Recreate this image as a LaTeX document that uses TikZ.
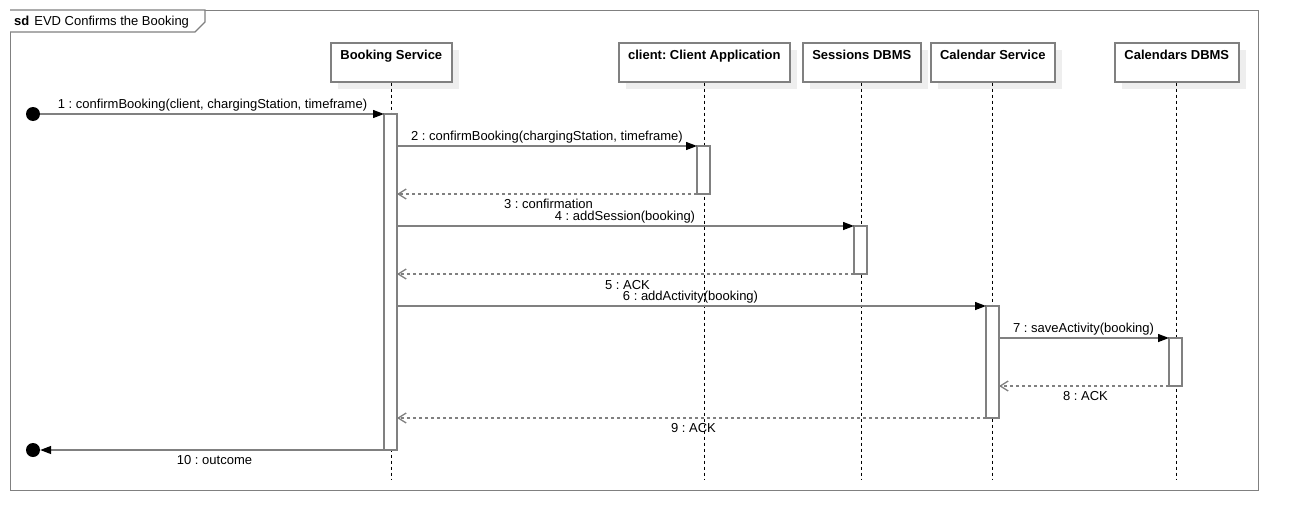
\documentclass[tikz,border=0pt]{standalone}
\usepackage{fontspec}
\setmainfont{Liberation Sans}
\frenchspacing
\usetikzlibrary{arrows.meta,calc,positioning,shapes,shadows}
\definecolor{my_gray}{RGB}{128,128,128}
\definecolor{my_shade}{RGB}{238,238,238}
\tikzset{
  head_n/.style = {draw=my_gray, line width=1.6pt, fill=white, anchor=north west, inner sep=0pt,
  text height=17pt, text depth=22pt, font=\bfseries\fontsize{13}{15}\selectfont,
  drop shadow={shadow xshift=7pt, shadow yshift=-7pt, fill=my_shade, opacity=1}},
  act_n/.style = {draw=my_gray, line width=1.3pt, fill=white, anchor=north, inner sep=0pt,
  outer sep=0pt, minimum width=13pt},
  dot_n/.style = {circle, fill=black, inner sep=0pt, minimum size=14pt},
  msg_t/.style = {anchor=base, inner sep=0pt, font=\fontsize{13}{15}\selectfont},
  life_l/.style = {black, line width=0.9pt, dash pattern=on 3pt off 3pt},
  call_l/.style = {draw=my_gray, line width=1.3pt, -{Triangle[length=11pt,width=8pt,color=black]}},
  ret_l/.style = {draw=my_gray, line width=1.3pt, dash pattern=on 3pt off 3pt,
  -{Straight Barb[length=8pt,width=10pt]}}
}

\begin{document}
\begin{tikzpicture}[x=1pt,y=-1pt]
  \useasboundingbox (0,0) rectangle (1298,530);
  % frame
  \node[draw=my_gray, line width=1.3pt, anchor=north west, inner sep=0pt,
    minimum width=1248pt, minimum height=480pt] (frame) at (10,10) {};
  \draw[my_gray, line width=1.3pt, fill=white] (frame.north west) -- (205,10) -- (205,22)
    -- (195,32) -- (10,32);
  \node[msg_t, anchor=base west] (title) at (14,25) {\textbf{sd}\hspace{5pt}EVD Confirms the Booking};
  % lifelines
  \node[head_n, minimum width=121pt] (bs) at (330,42) {Booking Service};
  \node[head_n, minimum width=171pt] (cl) at (618,42) {client: Client Application};
  \node[head_n, minimum width=118pt] (se) at (802,42) {Sessions DBMS};
  \node[head_n, minimum width=124pt] (ca) at (930,42) {Calendar Service};
  \node[head_n, minimum width=124pt] (cd) at (1114,42) {Calendars DBMS};
  \coordinate (bot) at (0,480);
  \draw[life_l] (bs.south) -- (bs.south |- bot);
  \draw[life_l] (cl.south) -- (cl.south |- bot);
  \draw[life_l] (se.south) -- (se.south |- bot);
  \draw[life_l] (ca.south) -- (ca.south |- bot);
  \draw[life_l] (cd.south) -- (cd.south |- bot);
  % activations
  \node[act_n, minimum height=336pt] (bs_a) at (390.5,114) {};
  \node[act_n, minimum height=48pt] (cl_a) at (703.5,146) {};
  \node[act_n, minimum height=48pt] (se_a) at (860.5,226) {};
  \node[act_n, minimum height=112pt] (ca_a) at (992.5,306) {};
  \node[act_n, minimum height=48pt] (cd_a) at (1175.5,338) {};
  % found and lost
  \node[dot_n] (found) at (33,114) {};
  \node[dot_n] (lost) at (33,450) {};
  % messages
  \draw[call_l] (found) -- (bs_a.north west);
  \draw[call_l] (bs_a.east |- cl_a.north) -- (cl_a.north west);
  \draw[ret_l] (cl_a.south west) -- (bs_a.east |- cl_a.south);
  \draw[call_l] (bs_a.east |- se_a.north) -- (se_a.north west);
  \draw[ret_l] (se_a.south west) -- (bs_a.east |- se_a.south);
  \draw[call_l] (bs_a.east |- ca_a.north) -- (ca_a.north west);
  \draw[call_l] (ca_a.east |- cd_a.north) -- (cd_a.north west);
  \draw[ret_l] (cd_a.south west) -- (ca_a.east |- cd_a.south);
  \draw[ret_l] (ca_a.south west) -- (bs_a.east |- ca_a.south);
  \draw[call_l] (bs_a.south west) -- (lost);
  % labels
  \node[msg_t] (m1) at (212.5,108) {1 : confirmBooking(client, chargingStation, timeframe)};
  \node[msg_t] (m2) at (547,140) {2 : confirmBooking(chargingStation, timeframe)};
  \node[msg_t] (m3) at (548.5,208) {3 : confirmation};
  \node[msg_t] (m4) at (625,220) {4 : addSession(booking)};
  \node[msg_t] (m5) at (627.5,289) {5 : ACK};
  \node[msg_t] (m6) at (690.5,300) {6 : addActivity(booking)};
  \node[msg_t] (m7) at (1083.5,332) {7 : saveActivity(booking)};
  \node[msg_t] (m8) at (1085.5,400) {8 : ACK};
  \node[msg_t] (m9) at (693.5,432) {9 : ACK};
  \node[msg_t] (m10) at (214.5,464) {10 : outcome};
\end{tikzpicture}
\end{document}
